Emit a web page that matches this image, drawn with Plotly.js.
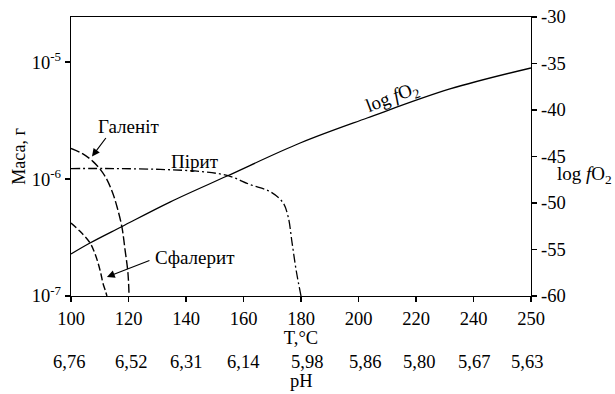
<!DOCTYPE html>
<html>
<head>
<meta charset="utf-8">
<script src="https://cdn.plot.ly/plotly-3.0.1.min.js"></script>
<style>html,body{margin:0;padding:0;background:#fff;}#chart{width:615px;height:394px;}</style>
</head>
<body>
<div id="chart"></div>
<script>
// Axis ticks (x positions: the last interval 240->250 is drawn as wide as a 20-degree step)
var tempTicks = [100, 120, 140, 160, 180, 200, 220, 240, 260];
var tempLabels = ["100", "120", "140", "160", "180", "200", "220", "240", "250"];
var phLabels = ["6,76", "6,52", "6,31", "6,14", "5,98", "5,86", "5,80", "5,67", "5,63"];
var massTicks = [1e-7, 1e-6, 1e-5];
var massLabels = ["10<sup>-7</sup>", "10<sup>-6</sup>", "10<sup>-5</sup>"];
var fo2Ticks = [-60, -55, -50, -45, -40, -35, -30];
var fo2Labels = ["-60", "-55", "-50", "-45", "-40", "-35", "-30"];

// Series
var galenaT = [100, 104, 107.7, 110.5, 112.5, 114.5, 116.0, 117.7, 118.8, 119.8, 120.2];
var galenaM = [1.83e-6, 1.65e-6, 1.41e-6, 1.18e-6, 9.9e-7, 7.6e-7, 5.8e-7, 3.9e-7, 2.48e-7, 1.58e-7, 1.0e-7];
var sphalT = [100, 103, 106.6, 108.2, 109.4, 110.4, 111.1, 112.0, 112.5];
var sphalM = [4.2e-7, 3.6e-7, 2.85e-7, 2.35e-7, 1.92e-7, 1.55e-7, 1.29e-7, 1.1e-7, 1.0e-7];
var pyriteT = [100, 115, 131, 145, 154.6, 162.3, 169.2, 173.7, 175.5, 176.9, 178.3, 180.0];
var pyriteM = [1.23e-6, 1.23e-6, 1.21e-6, 1.16e-6, 1.07e-6, 8.97e-7, 7.82e-7, 6.3e-7, 4.79e-7, 2.85e-7, 1.67e-7, 1.0e-7];
var fo2T = [100, 106.6, 117.6, 134.4, 154.3, 179.7, 203.0, 231.8, 260];
var fo2V = [-55.48, -54.30, -52.55, -49.9, -47.10, -43.55, -40.86, -37.74, -35.48];

// layout only: small horizontal nudges (px) of the pH row as printed
var phLabelShift = [-2, 2, 0, -1, 6, 6, 3, 0, -4];

var FONT = "Liberation Serif";
var F = {family: FONT, size: 19, color: "#000"};
var FT = {family: FONT, size: 18.5, color: "#000"};

var traces = [
  {x: galenaT, y: galenaM, mode: "lines", line: {color: "#000", width: 1.4, dash: "9px,3px", shape: "spline"}, name: "Галеніт"},
  {x: sphalT, y: sphalM, mode: "lines", line: {color: "#000", width: 1.4, dash: "7px,3px", shape: "spline"}, name: "Сфалерит"},
  {x: pyriteT, y: pyriteM, mode: "lines", line: {color: "#000", width: 1.3, dash: "9px,3px,2px,3px", shape: "spline"}, name: "Пірит"},
  {x: fo2T, y: fo2V, yaxis: "y2", mode: "lines", line: {color: "#000", width: 1.3, shape: "spline"}, name: "log fO2"}
];

var annotations = [
  {x: 119.9, y: -5.547, xref: "x", yref: "y", text: "Галеніт", showarrow: false, font: F},
  {x: 107.3, y: -5.807, xref: "x", yref: "y", text: "", showarrow: true, ax: 15, ay: -20, arrowhead: 2, arrowsize: 1.3, arrowwidth: 1.2, arrowcolor: "#000", standoff: 0},
  {x: 143.1, y: -5.847, xref: "x", yref: "y", text: "Пірит", showarrow: false, font: F},
  {x: 143.1, y: -6.674, xref: "x", yref: "y", text: "Сфалерит", showarrow: false, font: F},
  {x: 112.5, y: -6.837, xref: "x", yref: "y", text: "", showarrow: true, ax: 44, ay: -17, arrowhead: 2, arrowsize: 1.3, arrowwidth: 1.2, arrowcolor: "#000", standoff: 0},
  {x: 211.7, y: -38.7, xref: "x", yref: "y2", text: "log <i>f</i>O<sub>2</sub>", showarrow: false, textangle: -21, font: F},
  {x: 1.117, y: 0.434, xref: "paper", yref: "paper", xanchor: "center", yanchor: "middle", text: "log <i>f</i>O<sub>2</sub>", showarrow: false, font: F},
  {x: 180, y: -0.303, xref: "x", yref: "paper", xanchor: "center", yanchor: "middle", text: "pH", showarrow: false, font: FT}
];
for (var i = 0; i < tempTicks.length; i++) {
  annotations.push({x: tempTicks[i], y: -0.237, xref: "x", yref: "paper", xanchor: "center", yanchor: "middle",
    xshift: phLabelShift[i], text: phLabels[i], showarrow: false, font: FT});
}

var layout = {
  width: 615, height: 394,
  margin: {l: 71, r: 84, t: 17, b: 98},
  paper_bgcolor: "#fff", plot_bgcolor: "#fff",
  showlegend: false,
  font: F,
  xaxis: {
    range: [100, 260], tickvals: tempTicks, ticktext: tempLabels, tickfont: FT,
    ticks: "outside", ticklen: 5, tickwidth: 1.3, tickcolor: "#000",
    showline: true, linecolor: "#000", linewidth: 1.3, mirror: true,
    showgrid: false, zeroline: false,
    title: {text: "T,°C", font: FT, standoff: 2}
  },
  yaxis: {
    type: "log", range: [-7, -4.614], tickvals: massTicks, ticktext: massLabels, tickfont: FT,
    ticks: "outside", ticklen: 5, tickwidth: 1.3, tickcolor: "#000",
    showline: true, linecolor: "#000", linewidth: 1.3,
    showgrid: false, zeroline: false,
    title: {text: "Маса, г", font: {family: FONT, size: 18, color: "#000"}}
  },
  yaxis2: {
    overlaying: "y", side: "right", range: [-60, -30], tickvals: fo2Ticks, ticktext: fo2Labels, tickfont: FT,
    ticks: "outside", ticklen: 5, tickwidth: 1.3, tickcolor: "#000",
    showline: true, linecolor: "#000", linewidth: 1.3,
    showgrid: false, zeroline: false
  },
  annotations: annotations
};

Plotly.newPlot("chart", traces, layout, {staticPlot: true});
</script>
</body>
</html>
